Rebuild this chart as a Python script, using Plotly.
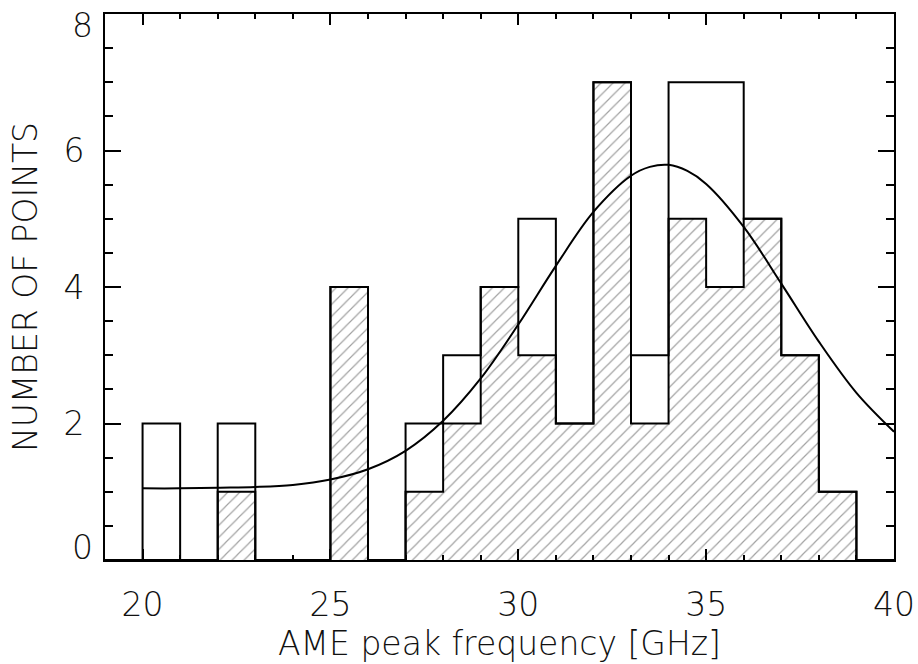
import plotly.graph_objects as go

# bin left edges (width 1 GHz)
bin_edges = [19, 20, 21, 22, 23, 24, 25, 26, 27, 28, 29, 30, 31, 32, 33, 34, 35, 36, 37, 38, 39, 40]
# open histogram (all points)
counts_all = [0, 2, 0, 2, 0, 0, 4, 0, 2, 3, 4, 5, 2, 7, 3, 7, 7, 5, 3, 1, 0]
# hatched histogram (subset)
counts_sub = [0, 0, 0, 1, 0, 0, 4, 0, 1, 2, 4, 3, 2, 7, 2, 5, 4, 5, 3, 1, 0]

# fitted curve
fit_x = [20, 21, 22, 23, 24, 25, 26, 27, 28, 29, 30, 31, 32, 33, 33.5, 34, 34.5, 35, 36, 37, 38, 39, 40]
fit_y = [1.05, 1.05, 1.06, 1.07, 1.10, 1.18, 1.33, 1.60, 2.04, 2.66, 3.45, 4.31, 5.10, 5.63, 5.76, 5.79, 5.70, 5.51, 4.88, 4.05, 3.20, 2.45, 1.88]

x_tick_vals = [20, 25, 30, 35, 40]
y_tick_vals = [0, 2, 4, 6, 8]
y_tick_text = ["0", "2", "4", "6", "8"]

FONT = "DejaVu Sans"
TXT = dict(family=FONT, size=33, color="#111111", weight=200)

step_all = counts_all + [counts_all[-1]]
step_sub = counts_sub + [counts_sub[-1]]

fig = go.Figure()
fig.add_trace(go.Scatter(
    x=bin_edges, y=step_sub, mode="lines", line=dict(shape="hv", color="black", width=2),
    fill="tozeroy", fillcolor="rgba(0,0,0,0)",
    fillpattern=dict(shape="/", fgcolor="#444444", bgcolor="rgba(0,0,0,0)", size=8.5, solidity=0.14),
    showlegend=False, hoverinfo="skip"))
fig.add_trace(go.Scatter(
    x=bin_edges, y=step_all, mode="lines", line=dict(shape="hv", color="black", width=2),
    showlegend=False, hoverinfo="skip"))
fig.add_trace(go.Scatter(
    x=fit_x, y=fit_y, mode="lines", line=dict(shape="spline", color="black", width=2),
    showlegend=False, hoverinfo="skip"))

axis_common = dict(
    showline=True, linecolor="black", linewidth=2, mirror="ticks",
    ticks="inside", tickcolor="black", tickwidth=2,
    showgrid=False, zeroline=False, ticklabeloverflow="allow",
    tickfont=TXT,
)

fig.update_xaxes(
    range=[19, 40], tickmode="array", tickvals=x_tick_vals, ticktext=[str(v) for v in x_tick_vals],
    ticklen=11, ticklabelstandoff=14,
    minor=dict(dtick=1, tick0=19, ticks="inside", ticklen=5, tickwidth=2, tickcolor="black", showgrid=False),
    title=dict(text="AME peak frequency [GHz]", font=TXT, standoff=2),
    **axis_common)
# middle y labels on the axis; the end labels (0 and 8) sit inside the frame height as in the reference
fig.update_yaxes(
    range=[0, 8], tickmode="array", tickvals=y_tick_vals,
    ticktext=["", y_tick_text[1], y_tick_text[2], y_tick_text[3], ""],
    ticklen=16, ticklabelstandoff=12,
    minor=dict(dtick=0.5, tick0=0, ticks="inside", ticklen=8, tickwidth=2, tickcolor="black", showgrid=False),
    title=dict(text="NUMBER OF POINTS", font=TXT, standoff=16),
    **axis_common)

fig.add_annotation(text=y_tick_text[4], xref="paper", x=0, xanchor="right", xshift=-10,
                   yref="y", y=y_tick_vals[4], yanchor="top", yshift=10, showarrow=False, font=TXT)
fig.add_annotation(text=y_tick_text[0], xref="paper", x=0, xanchor="right", xshift=-10,
                   yref="y", y=y_tick_vals[0], yanchor="bottom", yshift=-9, showarrow=False, font=TXT)

fig.update_layout(
    width=918, height=664,
    margin=dict(l=105, r=24, t=14, b=104, autoexpand=False),
    plot_bgcolor="white", paper_bgcolor="white",
    showlegend=False,
)

fig.write_html("out.html")
